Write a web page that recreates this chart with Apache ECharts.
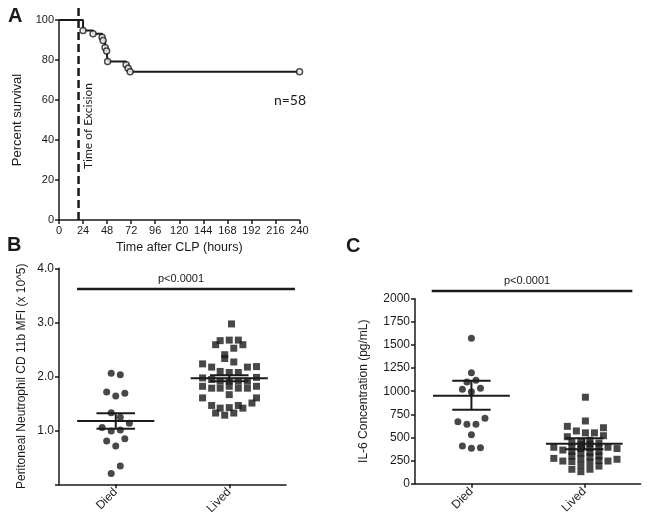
<!DOCTYPE html>
<html><head><meta charset="utf-8">
<script src="https://cdn.jsdelivr.net/npm/echarts@6/dist/echarts.min.js"></script>
<style>html,body{margin:0;padding:0;background:#fff}#c{width:649px;height:524px}</style>
</head><body><div id="c"></div>
<script>
// ---------- Panel A: Kaplan-Meier survival ----------
const survTimes = [0, 24, 34, 43, 44, 46, 47.5, 48.5, 67, 69, 71, 240];
const survPct   = [100, 94.8, 93.1, 91.4, 89.7, 86.2, 84.5, 79.3, 77.6, 75.9, 74.1, 74.1];
const excisionTime = 19.5;
const excisionSpan = [0, 107.5];
const nLabel = 'n=58';

// ---------- Groups ----------
const groups = ['Died', 'Lived'];
const pLabel = 'p<0.0001';

// ---------- Panel B: CD11b MFI (x 10^5) ----------
const bDied = [2.056, 2.03, 1.71, 1.635, 1.685, 1.326, 1.24, 1.13, 1.05, 0.987, 1.006, 0.80, 0.71, 0.845, 0.34, 0.20];
const bDiedJit = [-0.04, 0.04, -0.08, 0, 0.08, -0.04, 0.04, 0.12, -0.12, -0.04, 0.04, -0.08, 0, 0.08, 0.04, -0.04];
const bLived = [2.97, 2.66, 2.67, 2.67, 2.585, 2.52, 2.585, 2.40, 2.33, 2.265, 2.23, 2.17, 2.17, 2.18, 2.09, 2.07, 2.07,
  1.97, 1.94, 1.98, 1.91, 1.91, 1.91, 1.91, 1.815, 1.78, 1.78, 1.815, 1.78, 1.78, 1.815, 1.66, 1.60, 1.60, 1.505,
  1.46, 1.41, 1.42, 1.46, 1.41, 1.32, 1.28, 1.32];
const bLivedJit = [0.02, -0.08, 0, 0.08, -0.12, 0.04, 0.12, -0.04, -0.04, 0.04, -0.235, -0.155, 0.16, 0.24, -0.08, 0, 0.08,
  -0.235, -0.155, 0.24, -0.08, 0, 0.08, 0.16, -0.235, -0.155, -0.08, 0, 0.08, 0.16, 0.24, 0, -0.235, 0.24, 0.2,
  -0.155, -0.08, 0, 0.08, 0.12, -0.12, -0.04, 0.04];
const bMean = [1.172, 1.963];
const bSemLo = [1.03, 1.907];
const bSemHi = [1.315, 2.018];
const bYTicks = [1.0, 2.0, 3.0, 4.0];
const bPBar = [0.159, 2.079, 3.617];   // x from, x to (group axis), y value

// ---------- Panel C: IL-6 (pg/mL) ----------
const cDied = [1572, 1200, 1099, 1118, 1020, 995, 1031, 670, 642, 642, 707, 530, 408, 383, 389];
const cDiedJit = [0, 0, -0.04, 0.04, -0.08, 0, 0.08, -0.12, -0.04, 0.04, 0.12, 0, -0.08, 0, 0.08];
const cLived = [935, 678, 620, 605, 570, 550, 550, 508, 519,
  450, 400, 350, 300, 240, 156,
  460, 420, 380, 330, 270, 200, 130,
  470, 430, 390, 340, 290, 230, 156,
  440, 400, 350, 300, 250, 190,
  394, 364, 394, 380, 274, 245, 245, 264];
const cLivedJit = [0.01, 0.01, -0.15, 0.17, -0.07, 0.01, 0.09, -0.15, 0.17,
  -0.11, -0.11, -0.11, -0.11, -0.11, -0.11,
  -0.03, -0.03, -0.03, -0.03, -0.03, -0.03, -0.03,
  0.05, 0.05, 0.05, 0.05, 0.05, 0.05, 0.05,
  0.13, 0.13, 0.13, 0.13, 0.13, 0.13,
  -0.27, -0.19, 0.21, 0.29, -0.27, -0.19, 0.21, 0.29];
const cMean = [951, 432];
const cSemLo = [800, 373];
const cSemHi = [1113, 491];
const cPBar = [0.148, 1.926, 2083];

// ---------- helpers ----------
const FONT = '"Liberation Sans", Arial, Helvetica, sans-serif';
const INK = '#1a1a1a';
const pts = (vals, jit, gi) => vals.map((v, i) => [gi + 0.5 + jit[i], v]);
const errData = (m, lo, hi) => m.map((v, i) => [i + 0.5, v, lo[i], hi[i]]);

function errRender(params, api) {
  const c = api.value(0), m = api.value(1), lo = api.value(2), hi = api.value(3);
  const style = { stroke: INK, lineWidth: 2 };
  const seg = (a, b) => ({ type: 'line', shape: { x1: a[0], y1: a[1], x2: b[0], y2: b[1] }, style });
  const p = (x, y) => api.coord([x, y]);
  return { type: 'group', children: [
    seg(p(c - 0.34, m), p(c + 0.34, m)),
    seg(p(c, lo), p(c, hi)),
    seg(p(c - 0.17, lo), p(c + 0.17, lo)),
    seg(p(c - 0.17, hi), p(c + 0.17, hi))
  ]};
}
function pBarRender(params, api) {
  const a = api.coord([api.value(0), api.value(2)]);
  const b = api.coord([api.value(1), api.value(2)]);
  return { type: 'group', children: [
    { type: 'line', shape: { x1: a[0], y1: a[1], x2: b[0], y2: b[1] }, style: { stroke: INK, lineWidth: 2.5 } },
    { type: 'text', x: (a[0] + b[0]) / 2 - 5, y: a[1] - 5,
      style: { text: pLabel, font: '11px ' + FONT, fill: INK, align: 'center', verticalAlign: 'bottom' } }
  ]};
}
function excisionRender(params, api) {
  const a = api.coord([api.value(0), api.value(1)]);
  const b = api.coord([api.value(0), api.value(2)]);
  return { type: 'line', shape: { x1: a[0], y1: a[1], x2: b[0], y2: b[1] },
    style: { stroke: INK, lineWidth: 2.5, lineDash: [8, 4] } };
}

const axLine = { show: true, lineStyle: { color: INK, width: 1.5 } };
const axTick = { show: true, inside: false, length: 4, lineStyle: { color: INK, width: 1.5 } };

const chart = echarts.init(document.getElementById('c'), null, { renderer: 'canvas' });
chart.setOption({
  animation: false,
  backgroundColor: '#fff',
  textStyle: { fontFamily: FONT },
  grid: [
    { left: 59, top: 20, width: 240.5, height: 200 },
    { left: 59, top: 268.3, width: 227, height: 216 },
    { left: 415, top: 298.7, width: 225.7, height: 185 }
  ],
  xAxis: [
    { gridIndex: 0, type: 'value', min: 0, max: 240, interval: 24,
      name: 'Time after CLP (hours)', nameLocation: 'middle', nameGap: 21,
      nameTextStyle: { fontFamily: FONT, fontSize: 12.5, color: INK },
      axisLine: axLine, axisTick: axTick, splitLine: { show: false },
      axisLabel: { fontFamily: FONT, fontSize: 11, color: INK, margin: 5 } },
    { gridIndex: 1, type: 'category', data: groups, boundaryGap: true,
      axisLine: axLine, axisTick: Object.assign({ alignWithLabel: true }, axTick),
      axisLabel: { fontFamily: FONT, fontSize: 12, color: INK, rotate: 45, margin: 6 } },
    { gridIndex: 1, type: 'value', min: 0, max: 2, show: false },
    { gridIndex: 2, type: 'category', data: groups, boundaryGap: true,
      axisLine: axLine, axisTick: Object.assign({ alignWithLabel: true }, axTick),
      axisLabel: { fontFamily: FONT, fontSize: 12, color: INK, rotate: 45, margin: 6 } },
    { gridIndex: 2, type: 'value', min: 0, max: 2, show: false }
  ],
  yAxis: [
    { gridIndex: 0, type: 'value', min: 0, max: 100, interval: 20,
      name: 'Percent survival', nameLocation: 'middle', nameGap: 35, nameRotate: 90,
      nameTextStyle: { fontFamily: FONT, fontSize: 13, color: INK },
      axisLine: axLine, axisTick: axTick, splitLine: { show: false },
      axisLabel: { fontFamily: FONT, fontSize: 11, color: INK, margin: 5 } },
    { gridIndex: 1, type: 'value', min: 0, max: 4, interval: 1,
      name: 'Peritoneal Neutrophil CD 11b MFI (x 10^5)', nameLocation: 'middle', nameGap: 31, nameRotate: 90,
      nameTextStyle: { fontFamily: FONT, fontSize: 12, color: INK },
      axisLine: axLine, axisTick: axTick, splitLine: { show: false },
      axisLabel: { fontFamily: FONT, fontSize: 12, color: INK, margin: 5,
        formatter: v => (bYTicks.indexOf(v) >= 0 ? v.toFixed(1) : '') } },
    { gridIndex: 2, type: 'value', min: 0, max: 2000, interval: 250,
      name: 'IL-6 Concentration (pg/mL)', nameLocation: 'middle', nameGap: 45, nameRotate: 90,
      nameTextStyle: { fontFamily: FONT, fontSize: 12, color: INK },
      axisLine: axLine, axisTick: axTick, splitLine: { show: false },
      axisLabel: { fontFamily: FONT, fontSize: 12, color: INK, margin: 5, formatter: v => String(v) } }
  ],
  series: [
    { type: 'line', xAxisIndex: 0, yAxisIndex: 0, step: 'end', showSymbol: false, clip: false,
      data: survTimes.map((t, i) => [t, survPct[i]]),
      lineStyle: { color: INK, width: 2 } },
    { type: 'custom', xAxisIndex: 0, yAxisIndex: 0, renderItem: excisionRender, clip: false,
      data: [[excisionTime, excisionSpan[0], excisionSpan[1]]] },
    { type: 'scatter', xAxisIndex: 0, yAxisIndex: 0, symbol: 'circle', symbolSize: 6, z: 3,
      data: survTimes.slice(1).map((t, i) => [t, survPct[i + 1]]),
      itemStyle: { color: '#fff', borderColor: INK, borderWidth: 1.5 } },

    { type: 'scatter', xAxisIndex: 2, yAxisIndex: 1, symbol: 'circle', symbolSize: 7,
      data: pts(bDied, bDiedJit, 0), itemStyle: { color: INK } },
    { type: 'scatter', xAxisIndex: 2, yAxisIndex: 1, symbol: 'rect', symbolSize: 7,
      data: pts(bLived, bLivedJit, 1), itemStyle: { color: INK } },
    { type: 'custom', xAxisIndex: 2, yAxisIndex: 1, z: 5, renderItem: errRender,
      data: errData(bMean, bSemLo, bSemHi) },
    { type: 'custom', xAxisIndex: 2, yAxisIndex: 1, renderItem: pBarRender, clip: false, data: [bPBar] },

    { type: 'scatter', xAxisIndex: 4, yAxisIndex: 2, symbol: 'circle', symbolSize: 7,
      data: pts(cDied, cDiedJit, 0), itemStyle: { color: INK } },
    { type: 'scatter', xAxisIndex: 4, yAxisIndex: 2, symbol: 'rect', symbolSize: 7,
      data: pts(cLived, cLivedJit, 1), itemStyle: { color: INK } },
    { type: 'custom', xAxisIndex: 4, yAxisIndex: 2, z: 5, renderItem: errRender,
      data: errData(cMean, cSemLo, cSemHi) },
    { type: 'custom', xAxisIndex: 4, yAxisIndex: 2, renderItem: pBarRender, clip: false, data: [cPBar] }
  ],
  graphic: [
    { type: 'text', left: 8, top: 6, style: { text: 'A', font: 'bold 20px ' + FONT, fill: INK } },
    { type: 'text', left: 7, top: 235, style: { text: 'B', font: 'bold 20px ' + FONT, fill: INK } },
    { type: 'text', left: 346, top: 236, style: { text: 'C', font: 'bold 20px ' + FONT, fill: INK } },
    { type: 'text', x: 88, y: 126, rotation: Math.PI / 2,
      style: { text: 'Time of Excision', font: '12px Lato, "Open Sans", sans-serif', fill: INK, align: 'center', verticalAlign: 'middle' } },
    { type: 'text', x: 290, y: 100,
      style: { text: nLabel, font: '14px Lato, "Open Sans", sans-serif', fill: INK, align: 'center', verticalAlign: 'middle' } }
  ]
});
</script>
</body></html>
